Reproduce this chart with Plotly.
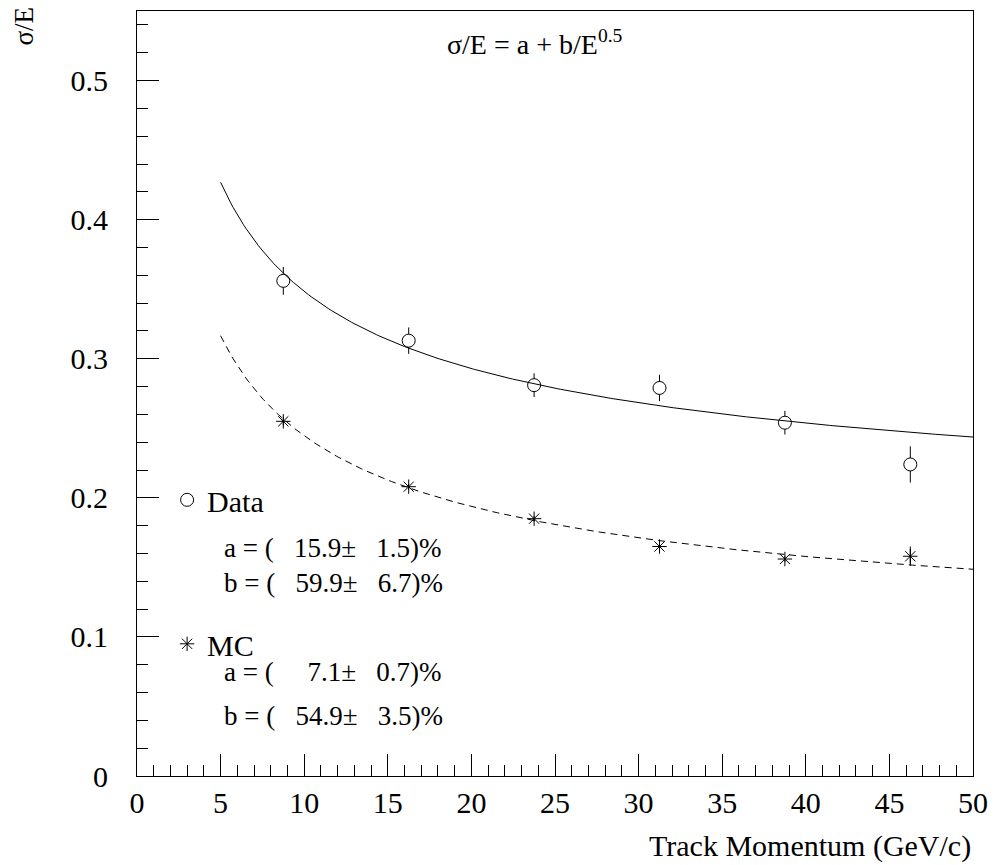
import numpy as np
import plotly.graph_objects as go

# ---- data ----
momentum = [8.75, 16.25, 23.75, 31.25, 38.75, 46.25]
data_res = [0.356, 0.313, 0.281, 0.279, 0.254, 0.224]
data_err = [0.010, 0.0095, 0.0085, 0.0095, 0.0085, 0.013]
mc_res = [0.255, 0.208, 0.185, 0.165, 0.156, 0.158]
mc_err = [0.003, 0.002, 0.002, 0.002, 0.002, 0.007]

# fit parameters (fraction) and their errors
data_a, data_a_err = 0.159, 0.015
data_b, data_b_err = 0.599, 0.067
mc_a, mc_a_err = 0.071, 0.007
mc_b, mc_b_err = 0.549, 0.035
fit_range = [5, 50]

x_ticks = [0, 5, 10, 15, 20, 25, 30, 35, 40, 45, 50]
y_ticks = [0, 0.1, 0.2, 0.3, 0.4, 0.5]
y_tick_text = ["0", "0.1", "0.2", "0.3", "0.4", "0.5"]

FONT = "Liberation Serif"
NB = "\u00a0"

E = np.linspace(fit_range[0], fit_range[1], 300)
fit_data = data_a + data_b / np.sqrt(E)
fit_mc = mc_a + mc_b / np.sqrt(E)

fig = go.Figure()

fig.add_trace(go.Scatter(
    x=momentum, y=data_res, mode="markers", name="Data",
    legendgroup="d",
    marker=dict(symbol="circle", size=13, color="white",
                line=dict(color="black", width=1)),
    error_y=dict(type="data", array=data_err, visible=True,
                 color="black", thickness=1, width=0),
))
fig.add_trace(go.Scatter(
    x=momentum, y=mc_res, mode="markers", name="MC",
    legendgroup="m",
    marker=dict(symbol="asterisk-open", size=12, color="black",
                line=dict(color="black", width=1)),
    error_y=dict(type="data", array=mc_err, visible=True,
                 color="black", thickness=1, width=0),
))
fig.add_trace(go.Scatter(
    x=E, y=fit_data, mode="lines", showlegend=False,
    line=dict(color="black", width=1),
))
fig.add_trace(go.Scatter(
    x=E, y=fit_mc, mode="lines", showlegend=False,
    line=dict(color="black", width=1, dash="7px,5px"),
))


def pct(v):
    return f"{v*100:.1f}"


def param_text(name, val, err):
    return (f"{name} = ({NB}{NB}{NB}{pct(val).rjust(4).replace(' ', NB+NB)}"
            f"±{NB}{NB}{NB}{pct(err)})%")


ann = [
    dict(x=5.06, y=0.164, text=param_text("a", data_a, data_a_err)),
    dict(x=5.06, y=0.139, text=param_text("b", data_b, data_b_err)),
    dict(x=5.06, y=0.0745, text=param_text("a", mc_a, mc_a_err)),
    dict(x=5.06, y=0.0435, text=param_text("b", mc_b, mc_b_err)),
]
annotations = []
for a in ann:
    annotations.append(dict(x=a["x"], y=a["y"], xref="x", yref="y",
                            text=a["text"], showarrow=False,
                            xanchor="left", yanchor="middle",
                            font=dict(family=FONT, size=27, color="black")))

annotations.append(dict(x=23.8, y=0.527, xref="x", yref="y",
                        text="σ/E = a + b/E<sup>0.5</sup>", showarrow=False,
                        xanchor="center", yanchor="middle",
                        font=dict(family=FONT, size=28, color="black")))
annotations.append(dict(x=1, y=-0.092, xref="paper", yref="paper",
                        text="Track Momentum (GeV/c)", showarrow=False,
                        xanchor="right", yanchor="middle",
                        font=dict(family=FONT, size=30, color="black")))
annotations.append(dict(x=-0.135, y=0.98, xref="paper", yref="paper",
                        text="σ/E", showarrow=False, textangle=-90,
                        xanchor="center", yanchor="middle",
                        font=dict(family=FONT, size=27, color="black")))

fig.update_layout(
    width=998, height=865,
    margin=dict(l=137, r=21, t=10, b=89),
    paper_bgcolor="white", plot_bgcolor="white",
    font=dict(family=FONT, color="black"),
    showlegend=True,
    legend=dict(x=0.036, y=0.395, xanchor="left", yanchor="top",
                bgcolor="rgba(0,0,0,0)", font=dict(family=FONT, size=30),
                traceorder="grouped", tracegroupgap=102,
                itemsizing="trace"),
    annotations=annotations,
)
fig.update_xaxes(
    range=[0, 50], tickvals=x_ticks, ticks="inside", ticklen=22,
    tickwidth=1, tickcolor="black", showline=True, linecolor="black",
    linewidth=1, mirror=True, showgrid=False, zeroline=False,
    tickfont=dict(family=FONT, size=30, color="black"),
    ticklabelstandoff=0,
    minor=dict(dtick=1, ticks="inside", ticklen=11, tickcolor="black",
               tickwidth=1, showgrid=False),
)
fig.update_yaxes(
    range=[0, 0.55], tickvals=y_ticks, ticktext=y_tick_text,
    ticks="inside", ticklen=22,
    tickwidth=1, tickcolor="black", showline=True, linecolor="black",
    linewidth=1, mirror=True, showgrid=False, zeroline=False,
    tickfont=dict(family=FONT, size=30, color="black"),
    ticklabelstandoff=22,
    minor=dict(dtick=0.02, ticks="inside", ticklen=11, tickcolor="black",
               tickwidth=1, showgrid=False),
)

fig.write_html(
    "out.html",
    config={"displayModeBar": False},
    post_script="document.body.style.margin='0';"
                "document.body.style.overflow='hidden';",
)
